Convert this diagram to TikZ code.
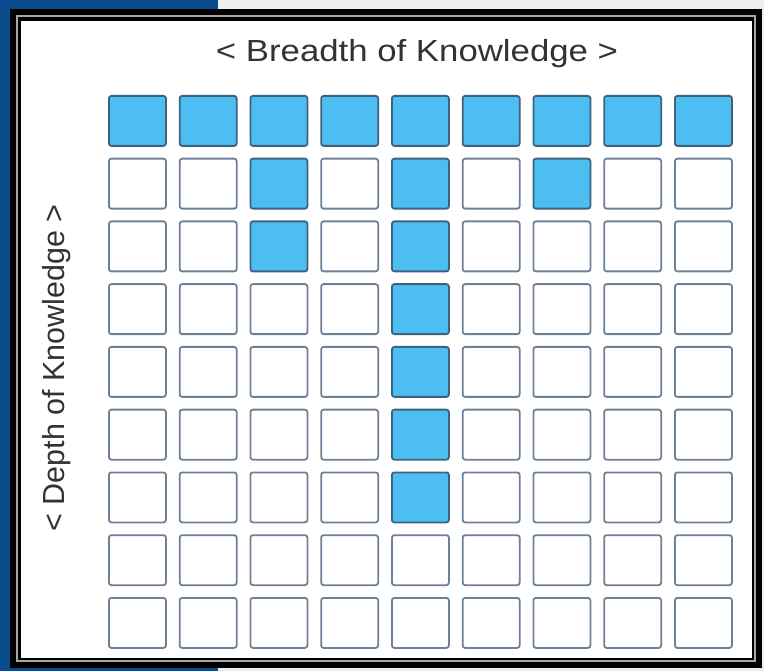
\documentclass[tikz,border=0pt]{standalone}
\usepackage{fontspec}
\setmainfont{Liberation Sans}
\definecolor{bgblue}{HTML}{0A4C8E}
\definecolor{bggray}{HTML}{EEEEEE}
\definecolor{cellfill}{HTML}{4DBEF2}
\definecolor{celledge}{HTML}{6E8094}
\definecolor{celledgefill}{HTML}{3E6180}
\definecolor{txt}{HTML}{333333}
\tikzset{
  cell/.style={draw=celledge, line width=1.8pt, rounded corners=2.5pt, fill=white,
    minimum width=57pt, minimum height=50pt, inner sep=0pt, anchor=north west},
  fcell/.style={cell, fill=cellfill, draw=celledgefill},
  label/.style={font=\fontsize{30.5}{32}\selectfont, text=txt, inner sep=0pt}
}
\begin{document}
\begin{tikzpicture}[x=1pt,y=-1pt]
\useasboundingbox (0,0) rectangle (764,671);
\fill[bggray] (0,0) rectangle (764,671);
\fill[bgblue] (0,0) rectangle (218,671);
% frame
\fill[black] (10,9) rectangle (762,668);
\draw[gray!70, line width=1.2pt] (17,16) rectangle (755,661);
\fill[white] (21,21) rectangle (752,658);
% title labels
\node[label, xscale=1.14] (breadth) at (417,54) {< Breadth of Knowledge >};
\node[label, rotate=90] (depth) at (57,368) {< Depth of Knowledge >};
% grid
\foreach \j in {0,...,8}{
  \foreach \i in {0,...,8}{
    \pgfmathsetmacro{\xx}{107+70.75*\i+1}
    \pgfmathsetmacro{\yy}{94+62.75*\j+1}
    \def\sty{cell}
    \ifnum\j=0 \def\sty{fcell}\fi
    \ifnum\j=1 \ifnum\i=2 \def\sty{fcell}\fi \ifnum\i=4 \def\sty{fcell}\fi \ifnum\i=6 \def\sty{fcell}\fi \fi
    \ifnum\j=2 \ifnum\i=2 \def\sty{fcell}\fi \ifnum\i=4 \def\sty{fcell}\fi \fi
    \ifnum\j>2 \ifnum\j<7 \ifnum\i=4 \def\sty{fcell}\fi \fi \fi
    \node[\sty] (c-\i-\j) at (\xx,\yy) {};
  }
}
\end{tikzpicture}
\end{document}
